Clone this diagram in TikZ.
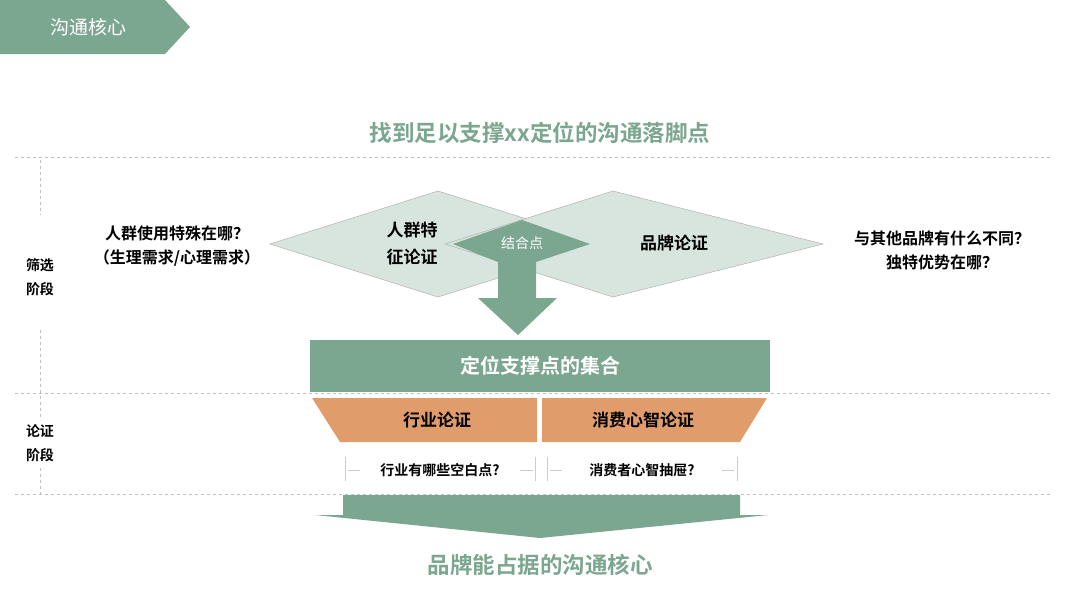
\documentclass[tikz,border=0pt]{standalone}
\usepackage{fontspec}
\setmainfont{Noto Sans CJK SC}
\newfontfamily\cjkb{Noto Sans CJK SC Bold}
\definecolor{gr}{HTML}{7BA68F}
\definecolor{lg}{HTML}{D8E5DE}
\definecolor{og}{HTML}{E09D6B}
\begin{document}
\begin{tikzpicture}[x=1pt,y=-1pt,
 dl/.style={draw=gray!50,dashed,line width=0.5pt},
 lbl/.style={font=\cjkb\fontsize{14}{24}\selectfont,align=center},
 qs/.style={font=\cjkb\fontsize{16}{24}\selectfont,align=center},
 wt/.style={font=\cjkb\fontsize{20}{22}\selectfont,text=white},
 bk/.style={font=\cjkb\fontsize{17}{27}\selectfont},
 tk/.style={draw=gray!40,line width=0.7pt}]
\useasboundingbox (0,0) rectangle (1080,606);
\fill[gr] (0,0) -- (165,0) -- (190,27) -- (165,54) -- (0,54) -- cycle;
\node[font=\fontsize{19}{22}\selectfont,text=white] (hd) at (88,27) {沟通核心};
\node[font=\cjkb\fontsize{22.5}{26}\selectfont,text=gr] (tt) at (540,133) {找到足以支撑xx定位的沟通落脚点};
\draw[dl] (15,157) -- (1050,157);
\draw[dl] (15,393) -- (1050,393);
\draw[dl] (15,494) -- (1050,494);
\draw[dl] (40,160) -- (40,215);
\draw[dl] (40,330) -- (40,420);
\draw[dl] (40,468) -- (40,494);
\node[lbl] (s1) at (40,277) {筛选\\阶段};
\node[lbl] (s2) at (40,443) {论证\\阶段};
\node[qs] (q1) at (177,246) {人群使用特殊在哪？\\（生理需求/心理需求）};
\node[qs] (q2) at (942,250) {与其他品牌有什么不同？\\独特优势在哪？};
\filldraw[fill=lg,draw=gray!60,line width=0.5pt] (270,244) -- (438,191) -- (606,244) -- (438,297) -- cycle;
\filldraw[fill=lg,draw=gray!60,line width=0.5pt] (445,244) -- (613,191) -- (823,244) -- (613,297) -- cycle;
\fill[gr] (453,244) -- (522,220) -- (590,244) -- (536,262) -- (536,298) -- (557,298) -- (518,335) -- (478,298) -- (498,298) -- (498,262) -- cycle;
\node[font=\fontsize{14}{16}\selectfont,text=white] (jh) at (522,243) {结合点};
\node[bk,align=center] (d1) at (412,244) {人群特\\征论证};
\node[bk] (d2) at (674,243) {品牌论证};
\fill[gr] (310,340) rectangle (770,392);
\node[wt] (bar) at (540,366) {定位支撑点的集合};
\fill[og] (312,398) -- (537,398) -- (537,442) -- (340,442) -- cycle;
\fill[og] (542,398) -- (767,398) -- (740,442) -- (542,442) -- cycle;
\node[bk] (o1) at (437,420) {行业论证};
\node[bk] (o2) at (643,420) {消费心智论证};
\foreach \x in {345,535,547,737} \draw[tk] (\x,457) -- (\x,481);
\foreach \x/\y in {348/360,520/533,550/562,722/734} \draw[tk] (\x,470) -- (\y,470);
\node[font=\cjkb\fontsize{14}{16}\selectfont] (b1) at (440,470) {行业有哪些空白点?};
\node[font=\cjkb\fontsize{14}{16}\selectfont] (b2) at (642,470) {消费者心智抽屉?};
\fill[gr] (343,495) -- (740,495) -- (740,515) -- (768,515) -- (540,538) -- (315,515) -- (343,515) -- cycle;
\node[font=\cjkb\fontsize{22.5}{26}\selectfont,text=gr] (bt) at (540,565) {品牌能占据的沟通核心};
\end{tikzpicture}
\end{document}
